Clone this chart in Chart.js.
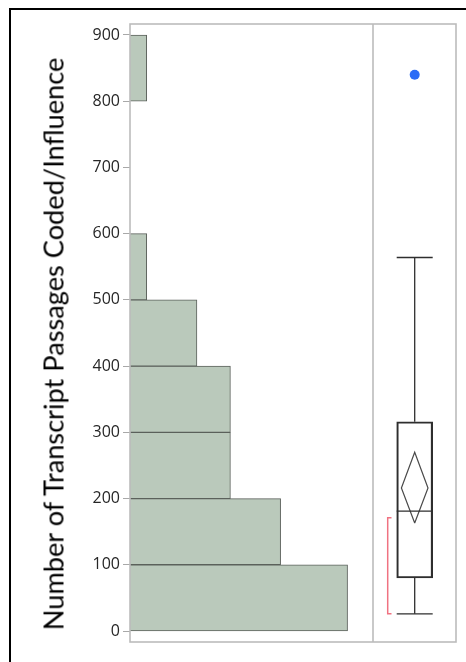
<!DOCTYPE html>
<html>
<head>
<meta charset="utf-8">
<script src="https://cdn.jsdelivr.net/npm/chart.js@4/dist/chart.umd.min.js"></script>
<style>
  html, body { margin: 0; padding: 0; background: #fff; width: 466px; height: 662px; overflow: clip; }
  #wrap { position: relative; width: 466px; height: 662px; overflow: hidden; }
  #frame { position: absolute; left: 9px; top: 8px; width: 455px; height: 652px; border-left: 2px solid #000; border-top: 2px solid #000; }
  #hist { position: absolute; left: 0; top: 0; }
  #box { position: absolute; left: 373px; top: 0; }
  #ytitle { position: absolute; left: 53px; top: 344px; transform: translate(-50%, -50%) rotate(-90deg);
            white-space: nowrap; font-family: Lato, "Open Sans", sans-serif; font-size: 27.2px; color: #000; }
</style>
</head>
<body>
<div id="wrap">
  <div id="frame"></div>
  <canvas id="hist" width="373" height="662"></canvas>
  <canvas id="box" width="93" height="662"></canvas>
  <div id="ytitle">Number of Transcript Passages Coded/Influence</div>
</div>
<script>
// Histogram: bins of 100 passages, counts per bin
const binStarts = [0, 100, 200, 300, 400, 500, 600, 700, 800];
const binCounts = [13, 9, 6, 6, 4, 1, 0, 0, 1];
const BIN_WIDTH = 100;

// Y axis tick labels
const yTickValues = [0, 100, 200, 300, 400, 500, 600, 700, 800, 900];

// Outlier box plot summary
const boxWhiskers = [26, 564];        // low, high whisker ends
const boxQuartiles = [80, 316];       // Q1, Q3
const boxMedian = [181];
const meanDiamond = [163, 216, 270];  // lower CI, mean, upper CI
const shortestHalf = [26, 171];
const outliers = [840];

// Shared value range of both panels
const Y_MIN = -16.6, Y_MAX = 916.6;
const COUNT_MAX = 14.52;

// Layout of the box-plot panel (x in panel pixels, 0..83)
const PANEL_W = 83;
const BOX_CX = 41.7, BOX_HALF = 18, DIAMOND_HALF = 13.3;
const BRACKET_X = 14.7, BRACKET_TICK = 3.8;

const FRAME_COLOR = '#bcbcbc';

const framePlugin = {
  id: 'panelFrame',
  afterDraw(chart) {
    const { ctx, chartArea: a } = chart;
    ctx.save();
    ctx.strokeStyle = FRAME_COLOR;
    ctx.lineWidth = 1.6;
    ctx.strokeRect(a.left, a.top, a.right - a.left, a.bottom - a.top);
    ctx.restore();
  }
};

const histData = binStarts.map((s, i) => ({ x: binCounts[i], y: s + BIN_WIDTH / 2 }));

new Chart(document.getElementById('hist'), {
  type: 'bar',
  data: {
    datasets: [{
      data: histData,
      backgroundColor: '#bac9bb',
      borderColor: '#5b615b',
      borderWidth: 1,
      categoryPercentage: 1,
      barPercentage: 1
    }]
  },
  options: {
    indexAxis: 'y',
    responsive: false,
    animation: false,
    devicePixelRatio: 1,
    layout: { autoPadding: false, padding: { top: 24, bottom: 20, left: 0, right: 0 } },
    plugins: { legend: { display: false }, tooltip: { enabled: false } },
    scales: {
      x: { type: 'linear', min: 0, max: COUNT_MAX, display: false, offset: false },
      y: {
        type: 'linear',
        min: Y_MIN,
        max: Y_MAX,
        offset: false,
        afterFit: s => { s.width = 130; },
        afterBuildTicks: s => { s.ticks = yTickValues.map(v => ({ value: v })); },
        grid: { drawOnChartArea: false, drawTicks: true, tickLength: 7, color: '#a8a8a8', offset: false },
        border: { display: false },
        ticks: {
          padding: 3,
          color: '#262626',
          font: { family: '"Open Sans", sans-serif', size: 16 }
        }
      }
    }
  },
  plugins: [framePlugin]
});

const lineDs = (pts, color, width) => ({
  type: 'line',
  data: pts,
  borderColor: color,
  borderWidth: width,
  pointRadius: 0,
  fill: false,
  tension: 0
});

const [lo, hi] = boxWhiskers;
const [q1, q3] = boxQuartiles;
const [ciLo, mean, ciHi] = meanDiamond;
const BOX_COLOR = '#2e2e2e';

new Chart(document.getElementById('box'), {
  type: 'bar',
  data: {
    datasets: [
      // outliers
      {
        type: 'scatter',
        data: outliers.map(v => ({ x: BOX_CX, y: v })),
        backgroundColor: '#2b6cf6',
        borderWidth: 0,
        pointRadius: 5
      },
      // box Q1..Q3
      {
        type: 'bar',
        data: [{ x: BOX_CX, y: [q1, q3] }],
        backgroundColor: 'rgba(0,0,0,0)',
        borderColor: BOX_COLOR,
        borderWidth: 1.5,
        borderSkipped: false,
        barThickness: BOX_HALF * 2
      },
      // median
      lineDs([{ x: BOX_CX - BOX_HALF, y: boxMedian[0] }, { x: BOX_CX + BOX_HALF, y: boxMedian[0] }], BOX_COLOR, 1.3),
      // whiskers
      lineDs([{ x: BOX_CX, y: q1 }, { x: BOX_CX, y: lo }], BOX_COLOR, 1.3),
      lineDs([{ x: BOX_CX, y: q3 }, { x: BOX_CX, y: hi }], BOX_COLOR, 1.3),
      // whisker caps
      lineDs([{ x: BOX_CX - BOX_HALF, y: lo }, { x: BOX_CX + BOX_HALF, y: lo }], BOX_COLOR, 1.3),
      lineDs([{ x: BOX_CX - BOX_HALF, y: hi }, { x: BOX_CX + BOX_HALF, y: hi }], BOX_COLOR, 1.3),
      // mean diamond
      lineDs([
        { x: BOX_CX, y: ciLo },
        { x: BOX_CX + DIAMOND_HALF, y: mean },
        { x: BOX_CX, y: ciHi },
        { x: BOX_CX - DIAMOND_HALF, y: mean },
        { x: BOX_CX, y: ciLo }
      ], '#4a4a4a', 1.2),
      // shortest half bracket
      lineDs([
        { x: BRACKET_X + BRACKET_TICK, y: shortestHalf[1] },
        { x: BRACKET_X, y: shortestHalf[1] },
        { x: BRACKET_X, y: shortestHalf[0] },
        { x: BRACKET_X + BRACKET_TICK, y: shortestHalf[0] }
      ], '#f07281', 1.5)
    ]
  },
  options: {
    responsive: false,
    animation: false,
    devicePixelRatio: 1,
    layout: { autoPadding: false, padding: { top: 24, bottom: 20, left: 0, right: 10 } },
    plugins: { legend: { display: false }, tooltip: { enabled: false } },
    scales: {
      x: { type: 'linear', min: 0, max: PANEL_W, display: false, offset: false, grid: { offset: false } },
      y: { type: 'linear', min: Y_MIN, max: Y_MAX, display: false, offset: false }
    }
  },
  plugins: [framePlugin]
});
</script>
</body>
</html>
